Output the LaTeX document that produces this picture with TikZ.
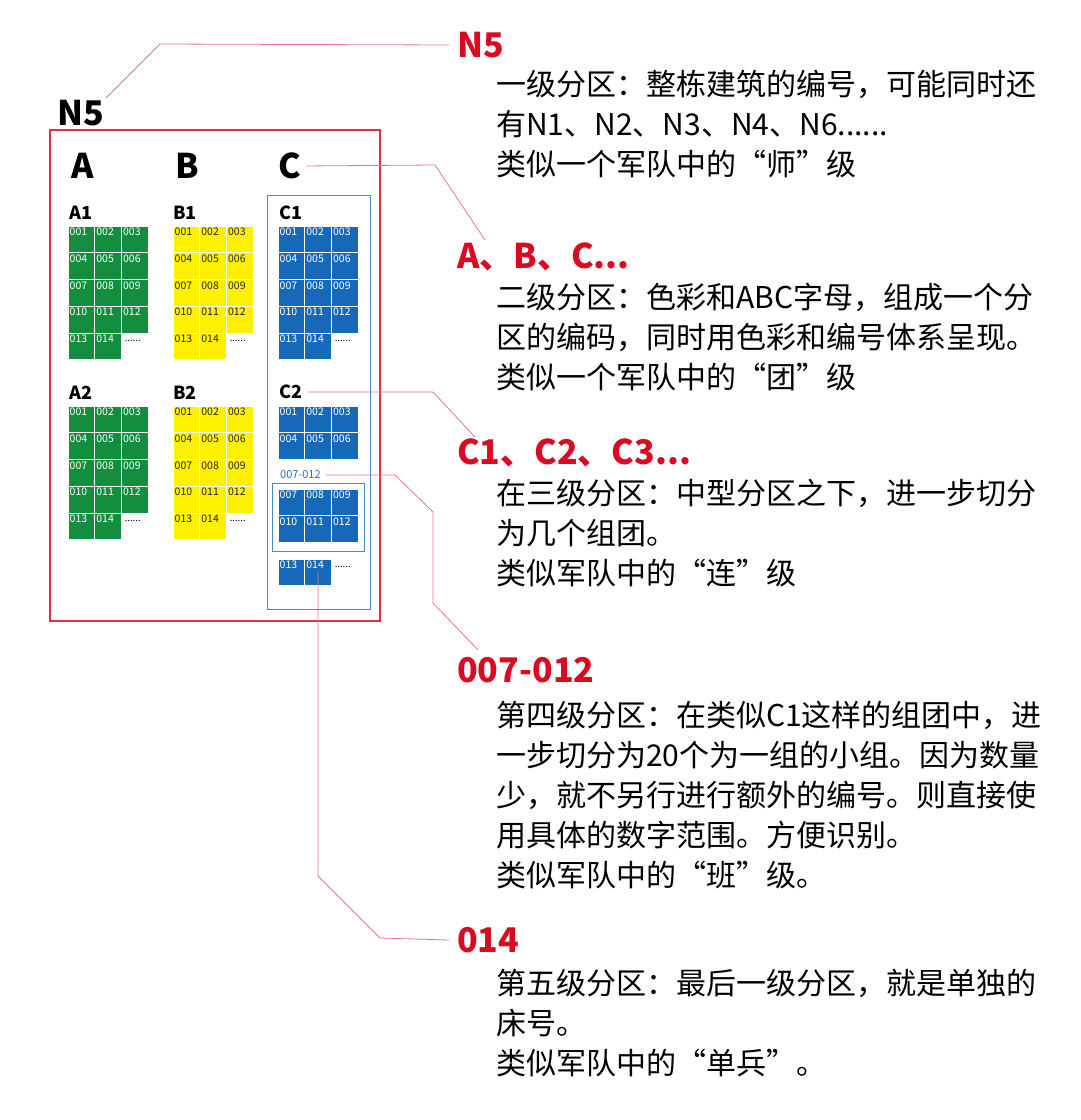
\documentclass[tikz,border=0pt]{standalone}
\usepackage{fontspec}
\setmainfont{Noto Sans CJK SC}

% one block of beds, 3 per row
\newcommand\bedblock[7]{%
  \foreach \n in {#6,...,#7}{%
    \pgfmathtruncatemacro\k{\n-#6}%
    \pgfmathtruncatemacro\col{mod(\k,3)}%
    \pgfmathtruncatemacro\row{div(\k,3)}%
    \edef\num{\ifnum\n<10 00\else 0\fi\n}%
    \node[#4, label={[#5]north west:\num}] (#1-\num) at ({#2+(\col+0.5)*26.7},{#3+(\row+0.5)*26.7}) {};%
  }%
}

\begin{document}
\begin{tikzpicture}[x=1pt,y=-1pt]

% Colors
\definecolor{bedgreen}{RGB}{18,142,62}
\definecolor{bedyellow}{RGB}{255,240,0}
\definecolor{bedblue}{RGB}{22,104,184}
\definecolor{titlered}{RGB}{218,10,35}
\definecolor{framered}{RGB}{226,50,65}
\definecolor{leadred}{RGB}{232,120,135}
\definecolor{frameblue}{RGB}{70,140,205}
\definecolor{rangeblue}{RGB}{50,110,180}

% Styles
\tikzset{
  cell/.style={
    rectangle,
    draw=white,
    line width=0.6pt,
    minimum size=26.7pt,
    inner sep=0pt
  },
  Gcell/.style={cell, fill=bedgreen},
  Ycell/.style={cell, fill=bedyellow},
  Bcell/.style={cell, fill=bedblue},
  wnum/.style={
    anchor=north west,
    inner xsep=1.8pt,
    inner ysep=2.2pt,
    text=white,
    font=\fontsize{10.5}{11}\selectfont
  },
  knum/.style={wnum, text=black!85},
  more/.style={
    anchor=north west,
    inner sep=1.6pt,
    font=\fontsize{9.5}{10}\selectfont
  },
  zone/.style={
    anchor=west,
    inner sep=0pt,
    font=\bfseries\fontsize{34}{36}\selectfont
  },
  group/.style={
    anchor=west,
    inner sep=0pt,
    font=\bfseries\fontsize{18}{20}\selectfont
  },
  head/.style={
    anchor=west,
    inner sep=0pt,
    text=titlered,
    font=\bfseries\fontsize{34}{36}\selectfont
  },
  body/.style={
    anchor=north west,
    inner sep=0pt,
    align=left,
    font=\fontsize{30}{40}\selectfont
  },
  lead/.style={
    draw=leadred,
    line width=0.8pt
  }
}

\useasboundingbox (0,0) rectangle (1080,1120);

% Frames
\draw[draw=framered, line width=1.3pt] (50,130) rectangle (380,621);
\draw[draw=frameblue, line width=1pt] (267,195) rectangle (370,609);
\draw[draw=frameblue, line width=1pt] (272,483) rectangle (364,551);

% Zone and group labels
\node[zone] (n5lab) at (57,113) {N5};
\node[zone] (Alab) at (71,166) {A};
\node[zone] (Blab) at (175,166) {B};
\node[zone] (Clab) at (278,166) {C};

\node[group] (A1lab) at (69,213) {A1};
\node[group] (B1lab) at (173,213) {B1};
\node[group] (C1lab) at (279,213) {C1};
\node[group] (A2lab) at (69,393) {A2};
\node[group] (B2lab) at (173,393) {B2};
\node[group] (C2lab) at (279,392) {C2};

\node[anchor=west, inner sep=0pt, text=rangeblue,
  font=\fontsize{11}{12}\selectfont] (rangelab) at (280,475) {007-012};

% Beds
\bedblock{A1}{68}{226}{Gcell}{wnum}{1}{14}
\bedblock{B1}{173}{226}{Ycell}{knum}{1}{14}
\bedblock{C1}{278}{226}{Bcell}{wnum}{1}{14}
\bedblock{A2}{68}{406}{Gcell}{wnum}{1}{14}
\bedblock{B2}{173}{406}{Ycell}{knum}{1}{14}
\bedblock{C2}{278}{406}{Bcell}{wnum}{1}{6}
\bedblock{C2}{278}{489}{Bcell}{wnum}{7}{12}
\bedblock{C2}{278}{559}{Bcell}{wnum}{13}{14}

\node[more] (A1-more) at (123,338) {......};
\node[more] (B1-more) at (228,338) {......};
\node[more] (C1-more) at (333,338) {......};
\node[more] (A2-more) at (123,518) {......};
\node[more] (B2-more) at (228,518) {......};
\node[more] (C2-more) at (333,564) {......};

% Titles on the right
\node[head] (n5T) at (457,45) {N5};
\node[head] (abcT) at (457,257) {A、B、C...};
\node[head] (c123T) at (457,453) {C1、C2、C3...};
\node[head] (rangeT) at (457,670) {007-012};
\node[head] (bedT) at (457,940) {014};

\node[body] (n5B) at (496,70) {一级分区：整栋建筑的编号，可能同时还\\有N1、N2、N3、N4、N6......\\类似一个军队中的“师”级};
\node[body] (abcB) at (496,283) {二级分区：色彩和ABC字母，组成一个分\\区的编码，同时用色彩和编号体系呈现。\\类似一个军队中的“团”级};
\node[body] (c123B) at (496,479) {在三级分区：中型分区之下，进一步切分\\为几个组团。\\类似军队中的“连”级};
\node[body] (rangeB) at (496,701) {第四级分区：在类似C1这样的组团中，进\\一步切分为20个为一组的小组。因为数量\\少，就不另行进行额外的编号。则直接使\\用具体的数字范围。方便识别。\\类似军队中的“班”级。};
\node[body] (bedB) at (496,969) {第五级分区：最后一级分区，就是单独的\\床号。\\类似军队中的“单兵”。};

% Leader lines
\coordinate (n5k) at (160,44);
\coordinate (ck) at (435,165);
\coordinate (ce) at (485,240);
\coordinate (c2k) at (433,392);
\coordinate (c2e) at (475,437);
\coordinate (rk1) at (395,475);
\coordinate (rk2) at (433,512);
\coordinate (rk3) at (433,603);
\coordinate (re) at (478,650);
\coordinate (bk1) at (318,876);
\coordinate (bk2) at (380,938);

\draw[lead, shorten <=3pt] (n5lab.north east) -- (n5k) -- ([xshift=-8pt]n5T.west);
\draw[lead, shorten <=5pt] (Clab.east) -- (ck) -- (ce);
\draw[lead, shorten <=5pt] (C2lab.east) -- (c2k) -- (c2e);
\draw[lead, shorten <=5pt] (rangelab.east) -- (rk1) -- (rk2) -- (rk3) -- (re);
\draw[lead] (C2-014.center) -- (bk1) -- (bk2) -- ([xshift=-8pt]bedT.west);

\end{tikzpicture}
\end{document}
